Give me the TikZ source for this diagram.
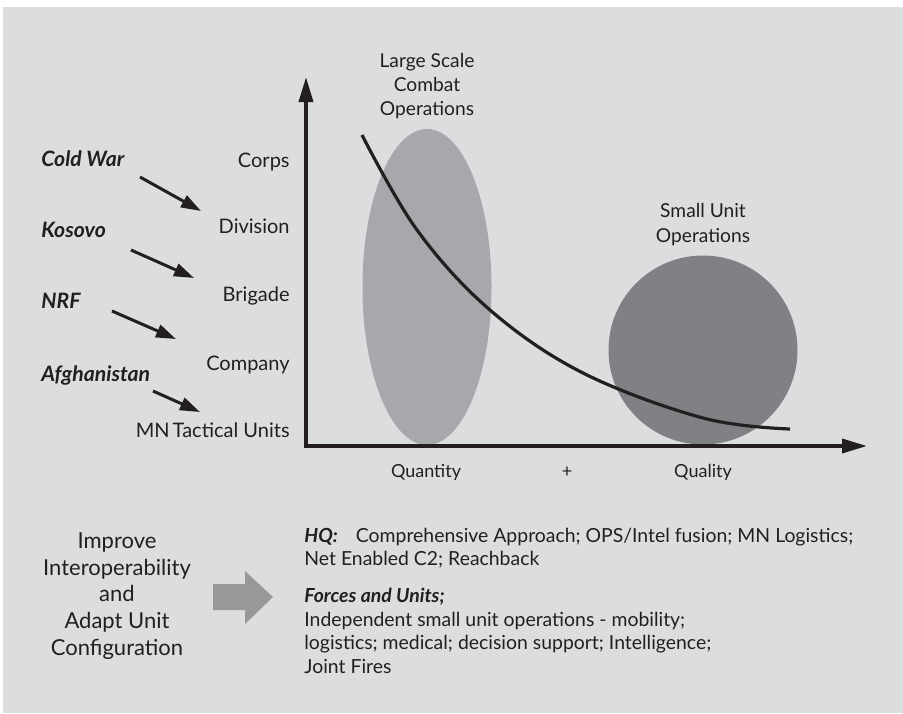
\documentclass[tikz,border=0pt]{standalone}
\usepackage{fontspec}
\setmainfont{Lato}
\usetikzlibrary{arrows.meta}
\definecolor{bggrey}{HTML}{DCDDDF}
\definecolor{lscgrey}{HTML}{A7A8AB}
\definecolor{sugrey}{HTML}{808184}
\definecolor{blockgrey}{HTML}{97989A}
\definecolor{ink}{HTML}{231F20}

\begin{document}
\begin{tikzpicture}[x=0.5pt,y=-0.5pt,every node/.style={inner sep=0pt,text=ink,font=\fontsize{10}{12}\selectfont},
	mission/.style={font=\fontsize{10.6}{12}\selectfont\bfseries\itshape},
	opslabel/.style={align=center,font=\fontsize{9.6}{12}\selectfont},
	moveto/.style={draw=ink,line width=1.5pt,-{Triangle[length=10pt,width=6.5pt]}},
	axis/.style={draw=ink,line width=1.8pt,line join=miter,{Triangle[length=12.5pt,width=7pt]}-{Triangle[length=12.5pt,width=7pt]}},
	trend/.style={draw=ink,line width=1.6pt},
	lower/.style={align=left,font=\fontsize{9.7}{11.7}\selectfont}]
	\useasboundingbox (0,0) rectangle (903,713);
	\fill[bggrey] (3,7) rectangle (903,713);
	% operations
	\fill[lscgrey] (427,287) ellipse (64.5 and 158);
	\fill[sugrey] (703,350) circle (94.5);
	\node[opslabel] (lsco) at (427,86) {Large Scale\\Combat\\Operations};
	\node[opslabel,font=\fontsize{9.6}{12.5}\selectfont] (suo) at (703,225) {Small Unit\\Operations};
	% axes
	\coordinate (ytop) at (306,77);
	\coordinate (origin) at (306,446);
	\coordinate (xend) at (867,446);
	\draw[axis] (ytop) -- (origin) -- (xend);
	\draw[trend] plot[smooth,tension=0.6] coordinates {(362,135) (417,230) (490,310) (583,373) (703,418) (790,429)};
	\node[anchor=base,font=\fontsize{9}{11}\selectfont] (quantity) at (426,477) {Quantity};
	\node[anchor=base,font=\fontsize{9}{11}\selectfont] (plus) at (567,477) {+};
	\node[anchor=base,font=\fontsize{9}{11}\selectfont] (quality) at (703,477) {Quality};
	% echelons
	\node[anchor=base east] (corps) at (290,167) {Corps};
	\node[anchor=base east] (division) at (290,233) {Division};
	\node[anchor=base east] (brigade) at (290,301) {Brigade};
	\node[anchor=base east] (company) at (290,370) {Company};
	\node[anchor=base east] (mntu) at (290,437) {MN\hspace{0.15em}Tactical Units};
	% missions
	\node[mission,anchor=base west] (coldwar) at (41,166) {Cold War};
	\node[mission,anchor=base west] (kosovo) at (41,237) {Kosovo};
	\node[mission,anchor=base west] (nrf) at (41,308) {NRF};
	\node[mission,anchor=base west] (afghan) at (41,381) {Afghanistan};
	\coordinate (cw1) at (140,177); \coordinate (cw2) at (201,211);
	\coordinate (ko1) at (131,250); \coordinate (ko2) at (194,278);
	\coordinate (nr1) at (112,311); \coordinate (nr2) at (176,339);
	\coordinate (af1) at (153,391); \coordinate (af2) at (200,412);
	\draw[moveto] (cw1) -- (cw2);
	\draw[moveto] (ko1) -- (ko2);
	\draw[moveto] (nr1) -- (nr2);
	\draw[moveto] (af1) -- (af2);
	% improve
	\node[align=center,font=\fontsize{11}{13.4}\selectfont] (improve) at (117,596) {Improve\\Interoperability\\and\\Adapt Unit\\Configuration};
	\fill[blockgrey] (213,584) -- (245,584) -- (245,571) -- (273,597) -- (245,624) -- (245,610) -- (213,610) -- cycle;
	\node[lower,anchor=base west] (hq) at (304,673) {\textbf{\textit{HQ:}}\hspace{9pt}Comprehensive Approach; OPS/Intel fusion; MN Logistics;\\Net Enabled C2; Reachback\\[6.8pt]\textbf{\textit{Forces and Units;}}\\Independent small unit operations - mobility;\\logistics; medical; decision support; Intelligence;\\Joint Fires};
\end{tikzpicture}
\end{document}
